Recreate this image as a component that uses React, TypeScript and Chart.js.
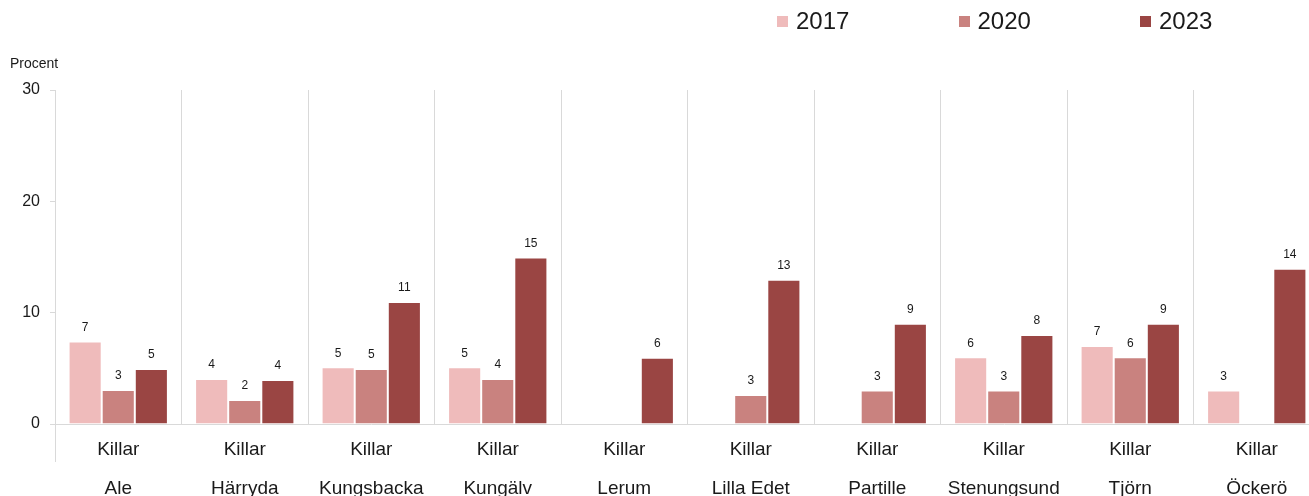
import React, { useEffect, useRef } from "react";
import { Chart, registerables } from "chart.js";

Chart.register(...registerables);

const municipalities = ["Ale", "Härryda", "Kungsbacka", "Kungälv", "Lerum", "Lilla Edet", "Partille", "Stenungsund", "Tjörn", "Öckerö"];
const subgroup = "Killar";
const seriesNames = ["2017", "2020", "2023"];
const values2017 = [7.4, 4.05, 5.1, 5.1, null, null, null, 6.0, 7.0, 3.0];
const values2020 = [3.05, 2.15, 4.95, 4.05, null, 2.6, 3.0, 3.0, 6.0, null];
const values2023 = [4.95, 3.95, 10.95, 14.95, 5.95, 12.95, 9.0, 8.0, 9.0, 13.95];
const seriesColors = ["#EFBBBB", "#C9827F", "#9A4543"];
const yMin = 0;
const yMax = 30;
const yStep = 10;
const axisTitle = "Procent";

const FONT = "'Liberation Sans', Arial, sans-serif";
const GRID = "#d9d9d9";
const TEXT = "#1a1a1a";

const valueLabels = {
  id: "valueLabels",
  afterDatasetsDraw(chart: any) {
    const ctx = chart.ctx;
    ctx.save();
    ctx.font = `12px ${FONT}`;
    ctx.fillStyle = TEXT;
    ctx.textAlign = "center";
    ctx.textBaseline = "bottom";
    chart.data.datasets.forEach((ds: any, i: number) => {
      const meta = chart.getDatasetMeta(i);
      meta.data.forEach((bar: any, j: number) => {
        const v = ds.data[j];
        if (v === null || v === undefined) return;
        ctx.fillText(String(Math.round(v)), bar.x, bar.y - 8);
      });
    });
    ctx.restore();
  },
};

const axisExtension = {
  id: "axisExtension",
  afterDraw(chart: any) {
    const { ctx, chartArea } = chart;
    ctx.save();
    ctx.strokeStyle = GRID;
    ctx.lineWidth = 1;
    const x = Math.round(chartArea.left) + 0.5;
    ctx.beginPath();
    ctx.moveTo(x, chartArea.bottom);
    ctx.lineTo(x, chartArea.bottom + 38);
    ctx.stroke();
    ctx.restore();
  },
};

export default function App() {
  const ref = useRef<HTMLCanvasElement | null>(null);

  useEffect(() => {
    document.body.style.margin = "0";
    document.body.style.overflow = "hidden";
    const canvas = ref.current;
    if (!canvas) return;
    const seriesValues = [values2017, values2020, values2023];
    const chart = new Chart(canvas, {
      type: "bar",
      data: {
        labels: municipalities.map((m) => [subgroup, m]),
        datasets: seriesNames.map((name, i) => ({
          label: name,
          data: seriesValues[i],
          backgroundColor: seriesColors[i],
          borderColor: "rgba(255,255,255,0.85)",
          borderWidth: 1,
          barPercentage: 1.0,
          categoryPercentage: 0.785,
        })),
      },
      options: {
        responsive: false,
        animation: false,
        devicePixelRatio: 1,
        layout: { padding: { left: 10, right: 10, top: 56, bottom: 0 } },
        plugins: {
          legend: { display: false },
          tooltip: { enabled: false },
          title: {
            display: true,
            text: axisTitle,
            align: "start",
            color: TEXT,
            font: { family: FONT, size: 14, weight: "normal", lineHeight: 1.2 },
            padding: { top: 0, bottom: 17.2 },
          },
        },
        scales: {
          x: {
            grid: { display: true, drawOnChartArea: true, drawTicks: false, color: GRID, offset: true },
            border: { display: true, color: GRID },
            ticks: {
              autoSkip: false,
              maxRotation: 0,
              color: TEXT,
              padding: 6,
              font: { family: FONT, size: 19, lineHeight: 2.05 },
            },
            afterFit: (scale: any) => {
              scale.height = 116;
            },
          },
          y: {
            min: yMin,
            max: yMax,
            ticks: {
              stepSize: yStep,
              color: TEXT,
              padding: 10,
              font: { family: FONT, size: 16 },
            },
            grid: { drawOnChartArea: false, drawTicks: true, tickLength: 5, color: GRID },
            border: { display: true, color: GRID },
            afterFit: (scale: any) => {
              scale.width = 45;
            },
          },
        },
      },
      plugins: [valueLabels, axisExtension],
    });
    return () => chart.destroy();
  }, []);

  return (
    <div style={{ position: "relative", width: 1330, height: 540 }}>
      <canvas ref={ref} width={1330} height={540} style={{ display: "block" }} />
      <div style={{ position: "absolute", left: 777, top: 6, display: "flex", fontFamily: FONT }}>
        {seriesNames.map((name, i) => (
          <div key={name} style={{ width: 181.5, height: 30, display: "flex", alignItems: "center" }}>
            <span style={{ width: 11, height: 11, background: seriesColors[i], marginRight: 8, display: "inline-block" }} />
            <span style={{ fontSize: 24, color: TEXT, lineHeight: "30px" }}>{name}</span>
          </div>
        ))}
      </div>
    </div>
  );
}
